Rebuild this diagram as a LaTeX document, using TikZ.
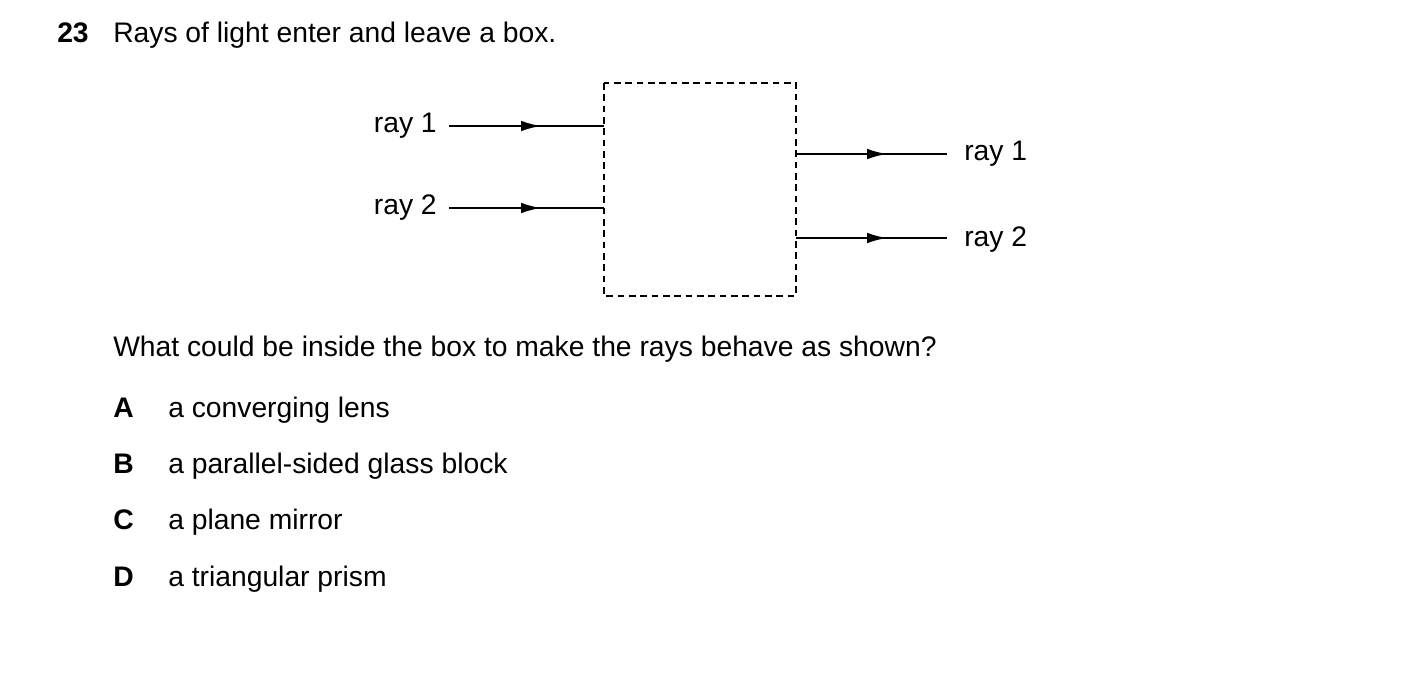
\documentclass[tikz,border=0pt]{standalone}
\usepackage{fontspec}
\setmainfont{Liberation Sans}
\usetikzlibrary{arrows.meta}
\begin{document}
\begin{tikzpicture}[x=0.75pt,y=-0.75pt,
  txt/.style={font=\fontsize{21.2}{24}\selectfont,inner sep=0pt},
  ray/.style={line width=1.5pt},
  tip/.style={ray,-{Latex[length=15pt,width=8pt]}}]
\useasboundingbox (0,0) rectangle (1403,685);
\node[txt,anchor=base west] (n) at (57,43) {\bfseries 23};
\node[txt,anchor=base west] (t) at (113,43) {Rays of light enter and leave a box.};
\draw[line width=1.5pt,dash pattern=on 5pt off 3.5pt] (604,83) rectangle (796,296);
\node[txt,anchor=east] (l1) at (437,126) {ray 1};
\node[txt,anchor=east] (l2) at (437,208) {ray 2};
\node[txt,anchor=west] (r1) at (964,154) {ray 1};
\node[txt,anchor=west] (r2) at (964,240) {ray 2};
\coordinate (a1) at (449,126); \coordinate (m1) at (541,126); \coordinate (b1) at (604,126);
\coordinate (a2) at (449,208); \coordinate (m2) at (541,208); \coordinate (b2) at (604,208);
\coordinate (c1) at (796,154); \coordinate (n1) at (887,154); \coordinate (d1) at (947,154);
\coordinate (c2) at (796,238); \coordinate (n2) at (887,238); \coordinate (d2) at (947,238);
\draw[ray] (a1) -- (b1); \draw[tip] (a1) -- (m1);
\draw[ray] (a2) -- (b2); \draw[tip] (a2) -- (m2);
\draw[ray] (c1) -- (d1); \draw[tip] (c1) -- (n1);
\draw[ray] (c2) -- (d2); \draw[tip] (c2) -- (n2);
\node[txt,anchor=base west] (q) at (113,356) {What could be inside the box to make the rays behave as shown?};
\node[txt,anchor=base west] (A) at (113,417) {\bfseries A};
\node[txt,anchor=base west] (At) at (168,417) {a converging lens};
\node[txt,anchor=base west] (B) at (113,473) {\bfseries B};
\node[txt,anchor=base west] (Bt) at (168,473) {a parallel-sided glass block};
\node[txt,anchor=base west] (C) at (113,529) {\bfseries C};
\node[txt,anchor=base west] (Ct) at (168,529) {a plane mirror};
\node[txt,anchor=base west] (D) at (113,586) {\bfseries D};
\node[txt,anchor=base west] (Dt) at (168,586) {a triangular prism};
\end{tikzpicture}
\end{document}
